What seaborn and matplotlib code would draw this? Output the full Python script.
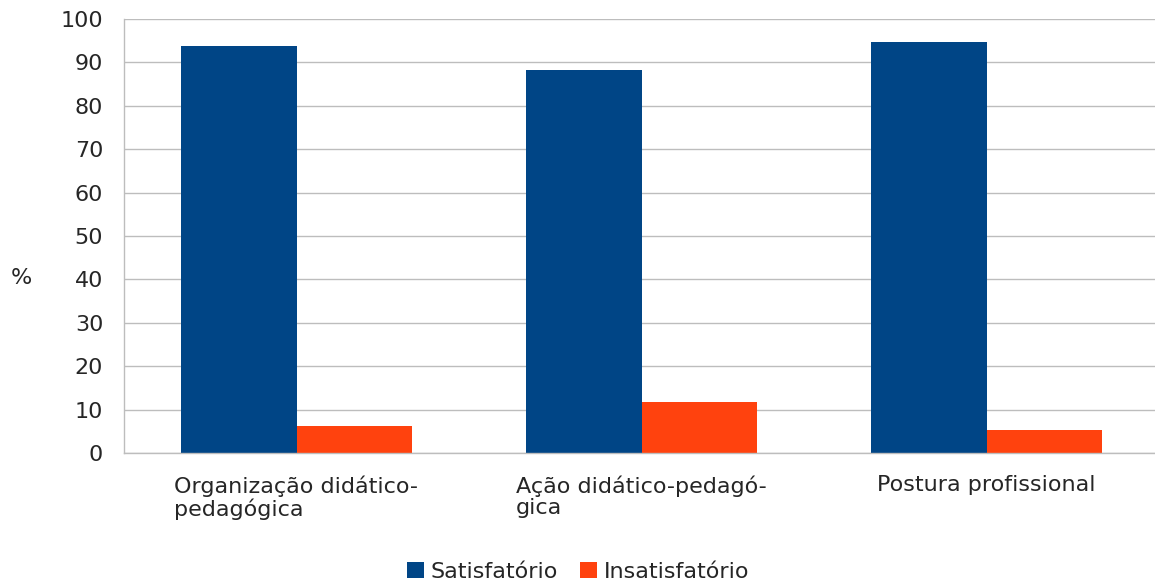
import pandas as pd
import matplotlib
matplotlib.use("Agg")
import matplotlib.pyplot as plt
import seaborn as sns

# data
categories = ["Organização didático-\npedagógica", "Ação didático-pedagó-\ngica", "Postura profissional"]
satisfatorio = [93.8, 88.3, 94.6]
insatisfatorio = [6.2, 11.7, 5.4]
series_names = ["Satisfatório", "Insatisfatório"]
y_ticks = list(range(0, 101, 10))

df = pd.DataFrame({
    "categoria": categories * 2,
    "valor": satisfatorio + insatisfatorio,
    "serie": [series_names[0]] * 3 + [series_names[1]] * 3,
})

sns.set_theme(style="white")
plt.rcParams["font.family"] = ["DejaVu Sans"]
fs = 16

fig = plt.figure(figsize=(11.55, 5.86), dpi=100)
ax = fig.add_axes([124 / 1155, 133 / 586, 1035 / 1155, 434 / 586])

palette = {"Satisfatório": "#004586", "Insatisfatório": "#ff420e"}
sns.barplot(data=df, x="categoria", y="valor", hue="serie", palette=palette,
            width=0.67, gap=0, saturation=1, ax=ax, linewidth=0, legend=True)

ax.set_ylim(0, 100)
ax.set_xlim(-0.5, 2.5)
ax.set_yticks(y_ticks)
ax.set_yticklabels([str(t) for t in y_ticks], fontsize=fs)
ax.yaxis.grid(True, color="#bdbdbd", linewidth=1)
ax.set_axisbelow(True)

# category boundary ticks on the x axis
ax.set_xticks([-0.5, 0.5, 1.5, 2.5])
ax.set_xticklabels([])
ax.set_xticks([0, 1, 2], minor=True)
ax.set_xticklabels(categories, minor=True, fontsize=fs, ha="center",
                   multialignment="left", linespacing=1.08, va="top")
ax.tick_params(axis="x", which="major", length=8, color="#bdbdbd", width=1)
ax.tick_params(axis="x", which="minor", length=0, pad=16)
ax.tick_params(axis="y", length=8, color="#bdbdbd", width=1, pad=7)

for side in ["top", "right"]:
    ax.spines[side].set_visible(False)
for side in ["left", "bottom"]:
    ax.spines[side].set_color("#bdbdbd")
    ax.spines[side].set_linewidth(1)

ax.set_xlabel("")
ax.set_ylabel("%", fontsize=fs, rotation=0, va="center", ha="center")
ax.yaxis.set_label_coords(-0.099, 0.403)

ax.legend(loc="center", bbox_to_anchor=(578 / 1155, 14 / 586),
          bbox_transform=fig.transFigure, ncol=2, frameon=False, fontsize=fs,
          handlelength=0.75, handleheight=0.75, handletextpad=0.3, columnspacing=1.0,
          borderaxespad=0)

fig.savefig("out.png", dpi=100)
